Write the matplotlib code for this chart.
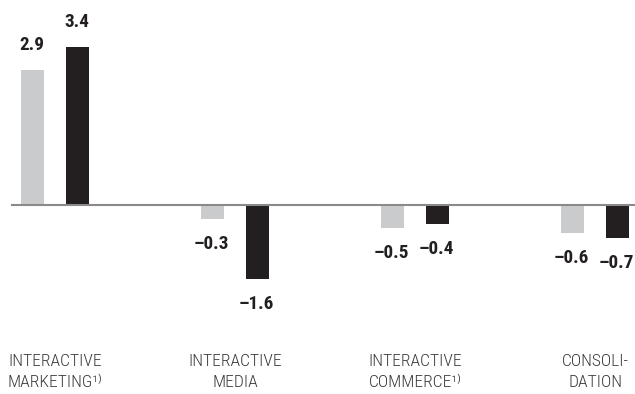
import matplotlib
matplotlib.use("Agg")
import matplotlib.pyplot as plt
from matplotlib import font_manager as fm
import numpy as np

categories = ["INTERACTIVE\nMARKETING\u00b9\u207e", "INTERACTIVE\nMEDIA",
              "INTERACTIVE\nCOMMERCE\u00b9\u207e", "CONSOLI-\nDATION"]
series_a = [2.9, -0.3, -0.5, -0.6]   # grey bars
series_b = [3.4, -1.6, -0.4, -0.7]   # black bars


def pick(weight):
    cands = [("Liberation Sans Narrow", "normal"), ("Roboto Condensed", "normal"),
             ("Open Sans Condensed", "normal"), ("DejaVu Sans", "condensed"),
             ("Noto Sans", "condensed")]
    for fam, st in cands:
        fp = fm.FontProperties(family=fam, weight=weight, stretch=st)
        try:
            f = fm.findfont(fp, fallback_to_default=False)
        except Exception:
            continue
        name = f.lower()
        if "narrow" in name or "condensed" in name or "cond" in name:
            return fm.FontProperties(fname=f), True
    return fm.FontProperties(family="DejaVu Sans", weight=weight), False


bold_fp, bold_c = pick("bold")
reg_fp, reg_c = pick("light")

W, H = 635, 394
fig = plt.figure(figsize=(W / 100, H / 100), dpi=100)
ax = fig.add_axes([0, 0, 1, 1])
ax.set_axis_off()

px_x = 180.0
px_y = 46.5
x0 = 55.0
base = 205.0
ax.set_xlim(-x0 / px_x, (W - x0) / px_x)
ax.set_ylim(-(H - base) / px_y, base / px_y)

x = np.arange(len(categories))
bw = 23 / px_x
off = 22.5 / px_x
grey = "#cacbcd"
black = "#231f20"
ax.bar(x - off, series_a, width=bw, color=grey, zorder=2)
ax.bar(x + off, series_b, width=bw, color=black, zorder=2)
ax.axhline(0, xmin=12 / W, xmax=1, color="#8a8a8a", lw=1.5, zorder=3)

bold_fp.set_size(13.8 if bold_c else 12)
bold_fp.set_weight("bold")


def fmt(v):
    s = f"{abs(v):.1f}"
    return ("\u2013" + s) if v < 0 else s


for xs, vals in ((x - off, series_a), (x + off, series_b)):
    for xi, v in zip(xs, vals):
        dy = 25 if v >= 0 else -25
        ax.annotate(fmt(v), (xi, v), xytext=(-1 * 72 / 100, dy * 72 / 100),
                    textcoords="offset points", fontproperties=bold_fp,
                    color=black, ha="center", va="center")

reg_fp.set_size(12.6 if reg_c else 10.5)
for xi, c in zip(x, categories):
    ax.text(xi, (H - 372) / H, c, transform=ax.get_xaxis_transform(),
            fontproperties=reg_fp, color="#3a3a3a", ha="center", va="center",
            linespacing=1.5)

fig.savefig("out.png", dpi=100)
